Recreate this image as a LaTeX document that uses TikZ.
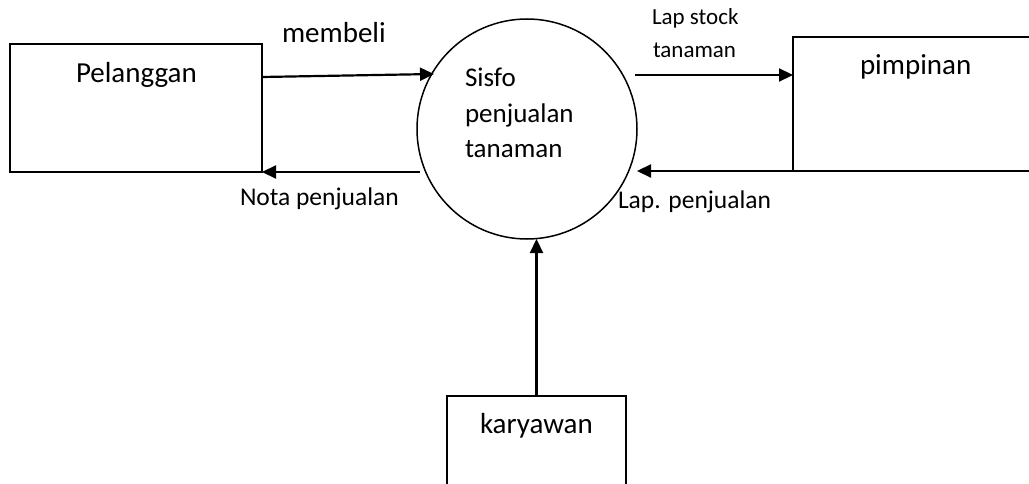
\documentclass[tikz,border=0pt]{standalone}
\usepackage{fontspec}
\setmainfont{Carlito}
\usetikzlibrary{arrows.meta}
\begin{document}
\begin{tikzpicture}[x=1pt,y=-1pt,
  entity/.style={draw,line width=2pt,inner sep=0pt,outer sep=0pt},
  process/.style={draw,circle,line width=1.5pt,inner sep=0pt,outer sep=0pt,minimum size=220pt},
  flow/.style={line width=2.2pt,-{Triangle[length=14pt,width=13pt]}},
  lbl/.style={anchor=base west,inner sep=0pt,outer sep=0pt},
  big/.style={font=\fontsize{29}{34}\selectfont},
  mid/.style={font=\fontsize{27}{32}\selectfont},
  sml/.style={font=\fontsize{25.5}{30}\selectfont},
  tiny/.style={font=\fontsize{23}{28}\selectfont}]
\useasboundingbox (0,0) rectangle (1029,484);
\clip (0,0) rectangle (1029,484);

% external entities and the process
\node[entity,minimum width=252pt,minimum height=128pt] (pel) at (136,108) {};
\node[entity,minimum width=247pt,minimum height=134pt] (pim) at (916.5,104) {};
\node[entity,minimum width=179pt,minimum height=110pt] (kar) at (536.5,451) {};
\node[process] (sys) at (527,129) {};

% entity names
\node[lbl,big] (pelt) at (76,83) {Pelanggan};
\node[lbl,big] (pimt) at (860,75) {pimpinan};
\node[lbl,big] (kart) at (480,433) {karyawan};
\node[lbl,mid] (syst1) at (465,87) {Sisfo};
\node[lbl,mid] (syst2) at (465,123) {penjualan};
\node[lbl,mid] (syst3) at (465,158) {tanaman};

% free ends of the flows
\coordinate (beliEnd) at (434,74);
\coordinate (notaStart) at (420,172);
\coordinate (stockStart) at (635,75);
\coordinate (lapEnd) at (637,171);

% data flows
\draw[flow] (pel.east |- 0,77) -- (beliEnd);
\draw[flow] (notaStart) -- (pel.south east);
\draw[flow] (stockStart) -- (pim.west |- stockStart);
\draw[flow] (pim.south west) -- (lapEnd);
\draw[flow] (kar.north) -- (kar.north |- sys.south);

% flow labels
\node[lbl,big] (beli) at (282,43) {membeli};
\node[lbl,sml] (nota) at (240,205) {Nota penjualan};
\node[lbl,tiny] (stock1) at (652,25) {Lap stock};
\node[lbl,tiny] (stock2) at (653,58) {tanaman};
\node[lbl,sml] (lap) at (618,208) {Lap. penjualan};
\end{tikzpicture}
\end{document}
